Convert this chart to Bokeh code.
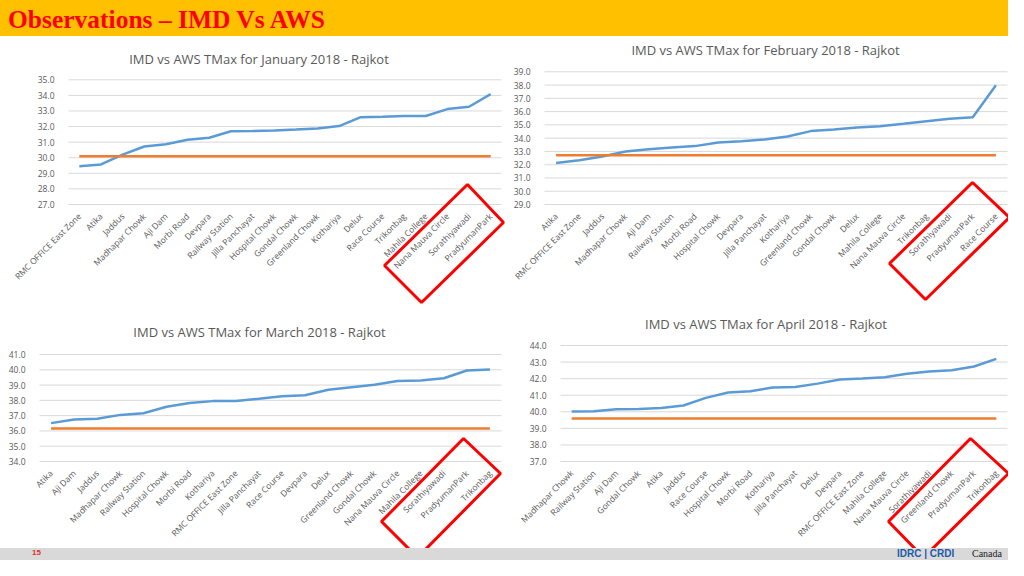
import math
from bokeh.plotting import figure
from bokeh.models import (Range1d, FixedTicker, PrintfTickFormatter,
                          PolyAnnotation, Label, Div)
from bokeh.layouts import column, row
from bokeh.embed import file_html
from bokeh.resources import INLINE

# ---------------- DATA ----------------
jan_stations = ["RMC OFFICE East Zone", "Atika", "Jaddus", "Madhapar Chowk", "Aji Dam",
                "Morbi Road", "Devpara", "Railway Station", "Jilla Panchayat", "Hospital Chowk",
                "Gondal Chowk", "Greenland Chowk", "Kothariya", "Delux", "Race Course",
                "Trikonbag", "Mahila College", "Nana Mauva Circle", "Sorathiyawadi", "PradyumanPark"]
jan_aws = [29.45, 29.57, 30.20, 30.72, 30.87, 31.15, 31.28, 31.70, 31.71, 31.75,
           31.81, 31.88, 32.03, 32.60, 32.63, 32.67, 32.68, 33.12, 33.27, 34.08]
jan_imd = 30.1

feb_stations = ["Atika", "RMC OFFICE East Zone", "Jaddus", "Madhapar Chowk", "Aji Dam",
                "Railway Station", "Morbi Road", "Hospital Chowk", "Devpara", "Jilla Panchayat",
                "Kothariya", "Greenland Chowk", "Gondal Chowk", "Delux", "Mahila College",
                "Nana Mauva Circle", "Trikonbag", "Sorathiyawadi", "PradyumanPark", "Race Course"]
feb_aws = [32.12, 32.34, 32.62, 32.99, 33.17, 33.30, 33.40, 33.67, 33.77, 33.90,
           34.12, 34.53, 34.65, 34.80, 34.90, 35.08, 35.28, 35.46, 35.58, 37.99]
feb_imd = 32.72

mar_stations = ["Atika", "Aji Dam", "Jaddus", "Madhapar Chowk", "Railway Station",
                "Hospital Chowk", "Morbi Road", "Kothariya", "RMC OFFICE East Zone", "Jilla Panchayat",
                "Race Course", "Devpara", "Delux", "Greenland Chowk", "Gondal Chowk",
                "Nana Mauva Circle", "Mahila College", "Sorathiyawadi", "PradyumanPark", "Trikonbag"]
mar_aws = [36.51, 36.75, 36.79, 37.05, 37.16, 37.58, 37.82, 37.95, 37.96, 38.10,
           38.27, 38.34, 38.69, 38.86, 39.02, 39.26, 39.30, 39.45, 39.95, 40.02]
mar_imd = 36.16

apr_stations = ["Madhapar Chowk", "Railway Station", "Aji Dam", "Gondal Chowk", "Atika",
                "Jaddus", "Race Course", "Hospital Chowk", "Morbi Road", "Kothariya",
                "Jilla Panchayat", "Delux", "Devpara", "RMC OFFICE East Zone", "Mahila College",
                "Nana Mauva Circle", "Sorathiyawadi", "Greenland Chowk", "PradyumanPark", "Trikonbag"]
apr_aws = [40.01, 40.03, 40.15, 40.17, 40.23, 40.38, 40.84, 41.16, 41.24, 41.46,
           41.50, 41.70, 41.95, 42.01, 42.09, 42.29, 42.43, 42.51, 42.73, 43.19]
apr_imd = 39.59

titles = ["IMD vs AWS TMax for January 2018 - Rajkot",
          "IMD vs AWS TMax for February 2018 - Rajkot",
          "IMD vs AWS TMax for March 2018 - Rajkot",
          "IMD vs AWS TMax for April 2018 - Rajkot"]
y_ticks_min = [27, 29, 34, 37]
y_ticks_max = [35, 39, 41, 44]

# ---------------- LAYOUT / STYLE ----------------
FONT = "Open Sans"
BLUE = "#5B9BD5"
ORANGE = "#ED7D31"
GRID = "#D9D9D9"
TXT = "#595959"
RED = "#FF0000"

# figure placement in page px
geoms = [
    dict(ax=0, ay=36, w=512, h=274),
    dict(ax=512, ay=36, w=496, h=274),
    dict(ax=0, ay=310, w=512, h=238),
    dict(ax=512, ay=310, w=496, h=238),
]
# page x of the left / right edge of the category area (plot area)
cat_px = [(68.0, 501.0), (544.0, 1007.0), (39.0, 501.0), (560.0, 1007.0)]
# page y of the top-tick and bottom-tick gridlines
tick_px = [(79.3, 204.0), (71.3, 204.0), (354.0, 461.0), (345.0, 461.0)]
title_centers = [(258.5, 58), (765, 49), (259, 331), (765.5, 323)]
diamonds = [
    [(467, 184), (503, 222), (421, 302), (384, 265)],
    [(972, 182), (1009, 217), (925, 299), (889, 263)],
    [(463, 438), (500, 473), (417, 557), (381, 521)],
    [(970, 438), (1008, 473), (923, 557), (888, 521)],
]


def make_chart(i, stations, aws, imd):
    g = geoms[i]
    n = len(stations)
    idx = list(range(n))
    t0, t1 = y_ticks_min[i], y_ticks_max[i]
    top_px, bot_px = tick_px[i]
    per_px = (t1 - t0) / (bot_px - top_px)
    cl, cr = cat_px[i]
    step = (cr - cl) / n

    def to_data(px, py):
        return (px - cl) / step - 0.5, t1 - (py - top_px) * per_px

    x0, y_top = to_data(g["ax"], g["ay"])
    x1, y_bot = to_data(g["ax"] + g["w"], g["ay"] + g["h"])

    p = figure(width=g["w"], height=g["h"], x_range=Range1d(x0, x1),
               y_range=Range1d(y_bot, y_top), output_backend="svg", toolbar_location=None,
               min_border_left=0, min_border_right=0, min_border_top=0, min_border_bottom=0)
    p.outline_line_color = None
    p.xgrid.visible = False
    p.ygrid.visible = False

    # horizontal gridlines across the category area only
    ticks = list(range(t0, t1 + 1))
    p.segment(x0=[-0.5] * len(ticks), x1=[n - 0.5] * len(ticks), y0=ticks, y1=ticks,
              line_color=GRID, line_width=1)

    p.yaxis.ticker = FixedTicker(ticks=ticks)
    p.yaxis.formatter = PrintfTickFormatter(format="%.1f")
    p.yaxis.fixed_location = -0.5
    p.yaxis.major_label_standoff = 8
    p.xaxis.ticker = FixedTicker(ticks=idx)
    p.xaxis.major_label_overrides = {k: s for k, s in zip(idx, stations)}
    p.xaxis.fixed_location = t0
    p.xaxis.major_label_orientation = math.pi / 4
    p.xaxis.major_label_standoff = 4
    for ax in (p.xaxis, p.yaxis):
        ax.major_tick_line_color = None
        ax.minor_tick_line_color = None
        ax.major_label_text_font = FONT
        ax.major_label_text_color = TXT
        ax.major_label_text_font_size = "8.5px"
        ax.axis_line_color = None

    p.line(x=idx, y=aws, line_color=BLUE, line_width=2.5)
    p.line(x=idx, y=[imd] * n, line_color=ORANGE, line_width=2.5)

    tx, ty = to_data(*title_centers[i])
    p.add_layout(Label(x=tx, y=ty, text=titles[i], text_align="center",
                       text_baseline="middle", text_font=FONT, text_font_size="13px",
                       text_color=TXT))
    pts = [to_data(px, py) for px, py in diamonds[i]]
    p.add_layout(PolyAnnotation(xs=[q[0] for q in pts], ys=[q[1] for q in pts],
                                fill_alpha=0, line_color=RED, line_alpha=1.0,
                                line_width=3, level="overlay"))
    return p


p1 = make_chart(0, jan_stations, jan_aws, jan_imd)
p2 = make_chart(1, feb_stations, feb_aws, feb_imd)
p3 = make_chart(2, mar_stations, mar_aws, mar_imd)
p4 = make_chart(3, apr_stations, apr_aws, apr_imd)

head = Div(width=1008, height=36, margin=0, text=(
    '<div style="width:1008px;height:36px;background:#FFC000;margin:0;padding:4px 0 0 8px;'
    'box-sizing:border-box;font-family:\'Liberation Serif\',serif;font-weight:bold;'
    'font-size:25.5px;line-height:32px;color:#FF0000;white-space:nowrap">'
    'Observations \u2013 IMD Vs AWS</div>'))

foot = Div(width=1008, height=12, margin=0, text=(
    '<div style="position:relative;width:1008px;height:12px;background:#D9D9D9;margin:0">'
    '<span style="position:absolute;left:32px;top:0px;font-family:\'Liberation Sans\';font-size:8px;'
    'font-weight:bold;color:#E03030;line-height:10px">15</span>'
    '<span style="position:absolute;left:897px;top:0px;font-family:\'Liberation Sans\';font-size:10px;'
    'font-weight:bold;color:#1F5AA6;line-height:12px">IDRC | CRDI</span>'
    '<span style="position:absolute;left:972px;top:0px;font-family:\'Liberation Serif\';font-size:10px;'
    'color:#222;line-height:12px">Canada</span></div>'))

layout = column(head, row(p1, p2), row(p3, p4), foot)

open("out.html", "w").write(file_html(layout, INLINE))
